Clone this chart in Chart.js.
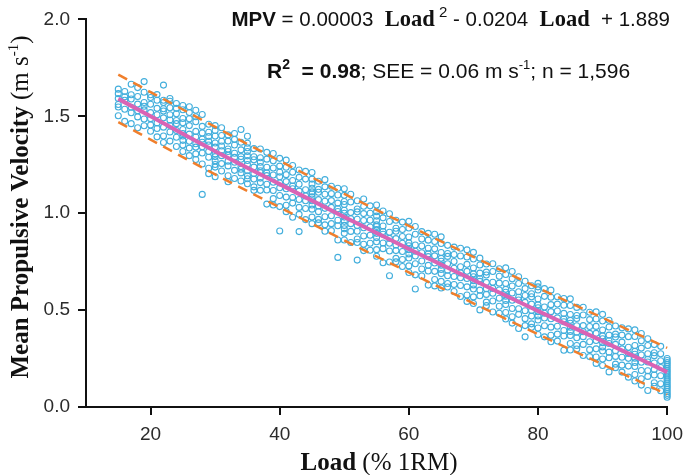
<!DOCTYPE html>
<html>
<head>
<meta charset="utf-8">
<script src="https://cdn.jsdelivr.net/npm/chart.js@4.4.1/dist/chart.umd.min.js"></script>
<style>
  html, body { margin: 0; padding: 0; background: #fff; }
  #wrap { width: 691px; height: 475px; }
</style>
</head>
<body>
<div id="wrap"><canvas id="mpvChart" width="691" height="475"></canvas></div>
<script>
// loads (% 1RM) and the velocities measured at each load
const loadPct = [15, 16, 17, 18, 19, 20, 21, 22, 23, 24, 25, 26, 27, 28, 29, 30, 31, 32, 33, 34, 35, 36, 37, 38, 39, 40,
    41, 42, 43, 44, 45, 46, 47, 48, 49, 50, 51, 52, 53, 54, 55, 56, 57, 58, 59, 60, 61, 62, 63, 64, 65, 66, 67, 68, 69, 70,
    71, 72, 73, 74, 75, 76, 77, 78, 79, 80, 81, 82, 83, 84, 85, 86, 87, 88, 89, 90, 91, 92, 93, 94, 95, 96, 97, 98, 99, 100];

const mpvAtLoad = [
    [1.640, 1.617, 1.561, 1.592, 1.503, 1.548],
    [1.628, 1.601, 1.536, 1.474, 1.583],
    [1.665, 1.589, 1.547, 1.462, 1.518, 1.611],
    [1.648, 1.563, 1.529, 1.441, 1.602, 1.497],
    [1.679, 1.624, 1.571, 1.552, 1.486, 1.451, 1.533],
    [1.597, 1.562, 1.519, 1.423, 1.488, 1.611, 1.455],
    [1.583, 1.541, 1.508, 1.466, 1.394, 1.612, 1.437],
    [1.661, 1.571, 1.527, 1.492, 1.398, 1.444, 1.539, 1.365, 1.583],
    [1.578, 1.481, 1.452, 1.419, 1.372, 1.544, 1.508, 1.592],
    [1.541, 1.513, 1.462, 1.392, 1.344, 1.478, 1.566, 1.427],
    [1.556, 1.489, 1.432, 1.411, 1.352, 1.318, 1.467, 1.398, 1.534, 1.376],
    [1.519, 1.487, 1.452, 1.371, 1.336, 1.297, 1.408, 1.549],
    [1.531, 1.472, 1.393, 1.358, 1.306, 1.277, 1.422, 1.341, 1.498],
    [1.509, 1.448, 1.382, 1.343, 1.311, 1.254, 1.097, 1.414, 1.366],
    [1.459, 1.418, 1.371, 1.352, 1.289, 1.232, 1.396, 1.204, 1.318],
    [1.452, 1.427, 1.362, 1.306, 1.271, 1.238, 1.188, 1.341, 1.292, 1.398, 1.251],
    [1.441, 1.371, 1.322, 1.297, 1.256, 1.218, 1.347, 1.401],
    [1.404, 1.372, 1.318, 1.299, 1.244, 1.193, 1.331, 1.162, 1.268],
    [1.411, 1.352, 1.288, 1.263, 1.221, 1.179, 1.309, 1.381],
    [1.432, 1.366, 1.327, 1.292, 1.241, 1.208, 1.166, 1.278, 1.227],
    [1.361, 1.338, 1.296, 1.251, 1.193, 1.152, 1.272, 1.219, 1.318, 1.178, 1.397],
    [1.333, 1.291, 1.276, 1.238, 1.205, 1.176, 1.136, 1.118],
    [1.331, 1.286, 1.241, 1.219, 1.158, 1.118, 1.263, 1.181, 1.209],
    [1.279, 1.237, 1.194, 1.149, 1.120, 1.047, 1.314, 1.208],
    [1.271, 1.233, 1.197, 1.160, 1.117, 1.075, 1.042, 1.308],
    [1.283, 1.243, 1.188, 1.156, 1.131, 1.091, 1.034, 0.908, 1.212],
    [1.237, 1.199, 1.163, 1.126, 1.083, 1.041, 1.008, 1.274],
    [1.211, 1.169, 1.126, 1.081, 1.052, 0.979, 1.246, 1.140],
    [1.223, 1.185, 1.149, 1.114, 1.071, 1.030, 0.994, 0.905],
    [1.216, 1.176, 1.121, 1.089, 1.064, 1.024, 0.967],
    [1.210, 1.176, 1.129, 1.099, 1.064, 1.021, 0.980, 0.946, 1.084, 1.042, 1.150, 1.110],
    [1.165, 1.123, 1.108, 1.070, 1.037, 1.008, 0.968, 0.950],
    [1.136, 1.098, 1.062, 1.025, 0.982, 0.940, 0.907, 1.173],
    [1.139, 1.101, 1.065, 1.030, 0.987, 0.946, 0.910],
    [1.094, 1.052, 1.009, 0.964, 0.935, 0.862, 1.129, 1.023, 0.772],
    [1.126, 1.092, 1.045, 1.015, 0.980, 0.937, 0.896, 0.862, 1.000, 0.958, 1.060, 0.920],
    [1.098, 1.058, 1.003, 0.971, 0.946, 0.906, 0.849],
    [1.064, 1.022, 1.007, 0.969, 0.936, 0.907, 0.867, 0.849, 0.758],
    [1.036, 0.998, 0.962, 0.925, 0.882, 0.840, 0.807, 1.073],
    [1.038, 1.000, 0.964, 0.929, 0.886, 0.845, 0.809],
    [1.042, 1.008, 0.961, 0.931, 0.896, 0.853, 0.812, 0.778, 0.916, 0.874, 0.985, 0.940],
    [0.976, 0.934, 0.891, 0.846, 0.817, 0.744, 1.011, 0.905],
    [0.997, 0.957, 0.902, 0.870, 0.845, 0.805, 0.748, 0.677],
    [0.964, 0.922, 0.907, 0.869, 0.836, 0.807, 0.767, 0.749],
    [0.954, 0.916, 0.880, 0.845, 0.802, 0.761, 0.725],
    [0.958, 0.924, 0.877, 0.847, 0.812, 0.769, 0.728, 0.694, 0.832, 0.790],
    [0.931, 0.891, 0.836, 0.804, 0.779, 0.739, 0.682, 0.609],
    [0.905, 0.867, 0.831, 0.796, 0.753, 0.712, 0.676],
    [0.861, 0.819, 0.776, 0.731, 0.702, 0.629, 0.896, 0.790],
    [0.854, 0.816, 0.780, 0.743, 0.700, 0.658, 0.625, 0.891],
    [0.878, 0.844, 0.797, 0.767, 0.732, 0.689, 0.648, 0.614, 0.752, 0.710],
    [0.834, 0.792, 0.777, 0.739, 0.706, 0.677, 0.637, 0.619],
    [0.825, 0.787, 0.751, 0.716, 0.673, 0.632, 0.596],
    [0.819, 0.779, 0.724, 0.692, 0.667, 0.627, 0.570],
    [0.774, 0.736, 0.700, 0.663, 0.620, 0.578, 0.545, 0.811],
    [0.798, 0.764, 0.717, 0.687, 0.652, 0.609, 0.568, 0.534, 0.672, 0.630],
    [0.733, 0.691, 0.648, 0.603, 0.574, 0.501, 0.768, 0.662],
    [0.738, 0.696, 0.681, 0.643, 0.610, 0.581, 0.541, 0.523],
    [0.739, 0.699, 0.644, 0.612, 0.587, 0.547, 0.490],
    [0.713, 0.675, 0.639, 0.604, 0.561, 0.520, 0.484],
    [0.718, 0.684, 0.637, 0.607, 0.572, 0.529, 0.488, 0.454, 0.592, 0.550],
    [0.662, 0.624, 0.588, 0.551, 0.508, 0.466, 0.433, 0.699],
    [0.637, 0.595, 0.552, 0.507, 0.478, 0.405, 0.672, 0.566],
    [0.649, 0.611, 0.575, 0.540, 0.497, 0.456, 0.420, 0.362],
    [0.626, 0.584, 0.569, 0.531, 0.498, 0.469, 0.429, 0.411],
    [0.638, 0.604, 0.557, 0.527, 0.492, 0.449, 0.408, 0.374, 0.512, 0.470, 0.620],
    [0.611, 0.571, 0.516, 0.484, 0.459, 0.419, 0.362],
    [0.566, 0.528, 0.492, 0.455, 0.412, 0.370, 0.337, 0.603],
    [0.569, 0.531, 0.495, 0.460, 0.417, 0.376, 0.340],
    [0.525, 0.483, 0.440, 0.395, 0.366, 0.293, 0.560, 0.454],
    [0.558, 0.524, 0.477, 0.447, 0.412, 0.369, 0.328, 0.294, 0.432, 0.390],
    [0.514, 0.472, 0.457, 0.419, 0.386, 0.357, 0.317, 0.299],
    [0.515, 0.475, 0.420, 0.388, 0.363, 0.323, 0.266],
    [0.489, 0.451, 0.415, 0.380, 0.337, 0.296, 0.260],
    [0.454, 0.416, 0.380, 0.343, 0.300, 0.258, 0.225, 0.491],
    [0.478, 0.444, 0.397, 0.367, 0.332, 0.289, 0.248, 0.214, 0.352, 0.310],
    [0.413, 0.371, 0.328, 0.283, 0.254, 0.181, 0.448, 0.342],
    [0.418, 0.376, 0.361, 0.323, 0.290, 0.261, 0.221, 0.203],
    [0.409, 0.371, 0.335, 0.300, 0.257, 0.216, 0.180],
    [0.403, 0.363, 0.308, 0.276, 0.251, 0.211, 0.154],
    [0.398, 0.364, 0.317, 0.287, 0.252, 0.209, 0.168, 0.134, 0.272, 0.230],
    [0.342, 0.304, 0.268, 0.231, 0.188, 0.146, 0.113, 0.379],
    [0.317, 0.275, 0.232, 0.187, 0.158, 0.085, 0.352, 0.246],
    [0.322, 0.280, 0.265, 0.227, 0.194, 0.165, 0.125, 0.107],
    [0.313, 0.275, 0.239, 0.204, 0.161, 0.120, 0.084],
    [0.25, 0.24, 0.23, 0.22, 0.21, 0.20, 0.19, 0.18, 0.17, 0.16, 0.15, 0.14, 0.13, 0.12, 0.11, 0.10,
     0.09, 0.08, 0.07, 0.06, 0.05]
];

// fitted curve and the +/- band
const fitLoad = [15, 20, 30, 40, 50, 60, 70, 80, 90, 100];
const fitMpv = [1.59, 1.50, 1.32, 1.15, 0.98, 0.815, 0.655, 0.495, 0.34, 0.18];
const upperMpv = [1.715, 1.625, 1.445, 1.27, 1.10, 0.935, 0.775, 0.615, 0.46, 0.305];
const lowerMpv = [1.47, 1.38, 1.20, 1.03, 0.86, 0.695, 0.535, 0.375, 0.22, 0.065];

const xTicks = [20, 40, 60, 80, 100];
const yTicks = [0, 0.5, 1.0, 1.5, 2.0];

const scatterPoints = [];
loadPct.forEach((load, i) => {
    mpvAtLoad[i].forEach(v => scatterPoints.push({ x: load, y: v }));
});

function toXY(xs, ys) {
    return xs.map((x, i) => ({ x: x, y: ys[i] }));
}

const SANS = "'Liberation Sans', Arial, sans-serif";
const SERIF = "'Liberation Serif', 'Times New Roman', serif";

function drawRuns(ctx, runs, x, y, align) {
    let total = 0;
    runs.forEach(r => {
        ctx.font = r.font;
        total += ctx.measureText(r.text).width;
    });
    if (align === 'right') x -= total;
    if (align === 'center') x -= total / 2;
    runs.forEach(r => {
        ctx.font = r.font;
        ctx.fillText(r.text, x, y + (r.dy || 0));
        x += ctx.measureText(r.text).width;
    });
}

const textPlugin = {
    id: 'textPlugin',
    afterDraw(chart) {
        const ctx = chart.ctx;
        ctx.save();
        ctx.fillStyle = '#111';
        ctx.textBaseline = 'alphabetic';
        ctx.textAlign = 'left';

        // equation
        drawRuns(ctx, [
            { text: 'MPV', font: 'bold 20.5px ' + SANS },
            { text: ' = 0.00003  ', font: '20.5px ' + SANS },
            { text: 'Load', font: 'bold 22.5px ' + SERIF },
            { text: ' 2', font: '15px ' + SANS, dy: -9 },
            { text: ' - 0.0204  ', font: '20.5px ' + SANS },
            { text: 'Load', font: 'bold 22.5px ' + SERIF },
            { text: '  + 1.889', font: '20.5px ' + SANS }
        ], 670, 26, 'right');

        drawRuns(ctx, [
            { text: 'R', font: 'bold 21px ' + SANS },
            { text: '2', font: 'bold 14px ' + SANS, dy: -9 },
            { text: '  = 0.98', font: 'bold 21px ' + SANS },
            { text: '; SEE = 0.06 m s', font: '21px ' + SANS },
            { text: '-1', font: '13px ' + SANS, dy: -9 },
            { text: '; n = 1,596', font: '21px ' + SANS }
        ], 267, 78, 'left');

        // x title
        drawRuns(ctx, [
            { text: 'Load', font: 'bold 25px ' + SERIF },
            { text: ' (% 1RM)', font: '25px ' + SERIF }
        ], 379, 470, 'center');

        // y title
        ctx.translate(28, 207);
        ctx.rotate(-Math.PI / 2);
        drawRuns(ctx, [
            { text: 'Mean Propulsive Velocity ', font: 'bold 25px ' + SERIF },
            { text: '(m s', font: '25px ' + SERIF },
            { text: '-1', font: '15px ' + SERIF, dy: -10 },
            { text: ')', font: '25px ' + SERIF }
        ], 0, 0, 'center');
        ctx.restore();
    }
};

const ctx = document.getElementById('mpvChart').getContext('2d');
new Chart(ctx, {
    type: 'scatter',
    data: {
        datasets: [
            {
                label: 'MPV',
                data: scatterPoints,
                pointStyle: 'circle',
                pointRadius: 3,
                pointBorderWidth: 1.1,
                borderColor: '#42aedc',
                backgroundColor: 'rgba(255,255,255,0)',
                clip: false,
                order: 3
            },
            {
                label: 'upper',
                type: 'line',
                data: toXY(fitLoad, upperMpv),
                borderColor: '#f07f2c',
                borderWidth: 2.5,
                borderDash: [10, 7],
                pointRadius: 0,
                cubicInterpolationMode: 'monotone',
                fill: false,
                clip: false,
                order: 2
            },
            {
                label: 'lower',
                type: 'line',
                data: toXY(fitLoad, lowerMpv),
                borderColor: '#f07f2c',
                borderWidth: 2.5,
                borderDash: [10, 7],
                pointRadius: 0,
                cubicInterpolationMode: 'monotone',
                fill: false,
                clip: false,
                order: 2
            },
            {
                label: 'fit',
                type: 'line',
                data: toXY(fitLoad, fitMpv),
                borderColor: '#d964b5',
                borderWidth: 4,
                pointRadius: 0,
                cubicInterpolationMode: 'monotone',
                fill: false,
                clip: false,
                order: 1
            }
        ]
    },
    options: {
        responsive: false,
        animation: false,
        layout: { padding: { top: 16, right: 19, left: 0, bottom: 0 } },
        plugins: {
            legend: { display: false },
            tooltip: { enabled: false }
        },
        scales: {
            x: {
                type: 'linear',
                min: 10,
                max: 100,
                afterBuildTicks: scale => { scale.ticks = xTicks.map(v => ({ value: v })); },
                afterFit: scale => { scale.height = 68; },
                border: { display: true, color: '#111', width: 2 },
                grid: { drawOnChartArea: false, drawTicks: true, tickLength: 8, color: '#111', lineWidth: 2 },
                ticks: {
                    padding: 8,
                    color: '#2b2b2b',
                    font: { family: SANS, size: 19 },
                    callback: v => String(v)
                }
            },
            y: {
                type: 'linear',
                min: 0,
                max: 2,
                afterBuildTicks: scale => { scale.ticks = yTicks.map(v => ({ value: v })); },
                afterFit: scale => { scale.width = 86; },
                border: { display: true, color: '#111', width: 2 },
                grid: { drawOnChartArea: false, drawTicks: true, tickLength: 8, color: '#111', lineWidth: 2 },
                ticks: {
                    padding: 8,
                    color: '#2b2b2b',
                    font: { family: SANS, size: 19 },
                    callback: v => v.toFixed(1)
                }
            }
        }
    },
    plugins: [textPlugin]
});
</script>
</body>
</html>
